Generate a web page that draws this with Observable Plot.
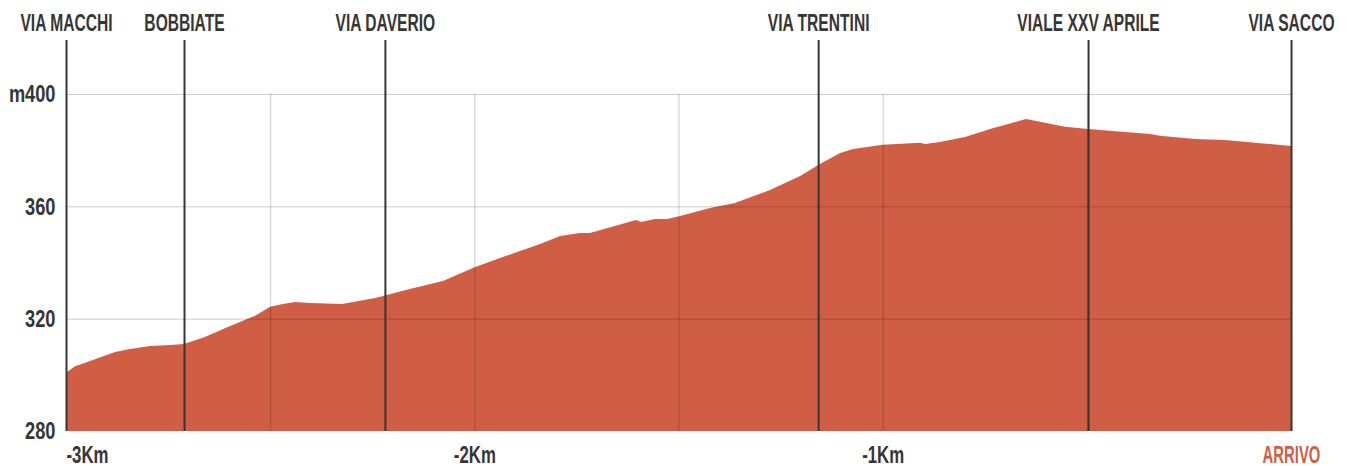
<!DOCTYPE html>
<html>
<head>
<meta charset="utf-8">
<script src="https://cdn.jsdelivr.net/npm/d3@7"></script>
<script src="https://cdn.jsdelivr.net/npm/@observablehq/plot@0.6"></script>
<style>
  html, body { margin: 0; padding: 0; background: #fff; }
  #chart svg { display: block; }
</style>
</head>
<body>
<div id="chart"></div>
<script>
// Elevation profile (distance to finish in km, elevation in m)
const km   = [-3.000, -2.978, -2.941, -2.880, -2.843, -2.794, -2.745, -2.711, -2.660, -2.598,
              -2.537, -2.500, -2.469, -2.439, -2.402, -2.324, -2.243, -2.158, -2.077, -1.998,
              -1.937, -1.839, -1.790, -1.741, -1.717, -1.604, -1.592, -1.558, -1.528, -1.496,
              -1.423, -1.362, -1.276, -1.202, -1.158, -1.104, -1.073, -1.000, -0.909, -0.896,
              -0.860, -0.798, -0.737, -0.649, -0.553, -0.497, -0.345, -0.321, -0.235, -0.162, 0];
const elev = [300.7, 303.1, 304.9, 308.1, 309.2, 310.3, 310.6, 311.0, 313.5, 317.4,
              321.0, 324.2, 325.2, 325.9, 325.6, 325.2, 327.4, 330.6, 333.4, 338.4,
              341.6, 346.6, 349.4, 350.5, 350.5, 355.1, 354.4, 355.5, 355.5, 356.6,
              359.4, 361.2, 365.8, 370.8, 374.7, 379.0, 380.4, 381.9, 382.6, 382.2,
              382.9, 384.7, 387.5, 391.1, 388.3, 387.5, 385.8, 385.1, 384.0, 383.6, 381.5];

const landmarkNames = ["VIA MACCHI", "BOBBIATE", "VIA DAVERIO", "VIA TRENTINI", "VIALE XXV APRILE", "VIA SACCO"];
const landmarkKm    = [-3, -2.711, -2.219, -1.158, -0.497, 0];

const xTicks      = [-3, -2, -1, 0];
const xTickLabels = ["-3Km", "-2Km", "-1Km", "ARRIVO"];
const xGrid       = [-2.5, -2, -1.5, -1, -0.5];
const yTicks      = [280, 320, 360, 400];
const yTickLabels = ["280", "320", "360", "m400"];
const yGrid       = [320, 360, 400];

const profile   = km.map((k, i) => ({km: k, elev: elev[i]}));
const landmarks = landmarkNames.map((n, i) => ({name: n, km: landmarkKm[i]}));
const xLabels   = xTicks.map((t, i) => ({v: t, label: xTickLabels[i]}));
const yLabels   = yTicks.map((t, i) => ({v: t, label: yTickLabels[i]}));

const FONT = "'Liberation Sans', Arial, sans-serif";
const RED = "#cf5e44";
const INK = "#363636";

const textStyle = {fontSize: 24, fontWeight: "bold"};

const chart = Plot.plot({
  width: 1349,
  height: 466,
  marginLeft: 66,
  marginRight: 58,
  marginTop: 94,
  marginBottom: 35,
  style: {fontFamily: FONT, background: "#fff"},
  x: {domain: [-3, 0], axis: null},
  y: {domain: [280, 400], axis: null},
  marks: [
    Plot.areaY(profile, {x: "km", y1: 280, y2: "elev", fill: RED, curve: "linear"}),
    Plot.ruleY(yGrid, {stroke: "#000", strokeOpacity: 0.2, strokeWidth: 1}),
    Plot.ruleX(xGrid, {stroke: "#000", strokeOpacity: 0.2, strokeWidth: 1}),
    Plot.ruleX(landmarks, {x: "km", stroke: INK, strokeWidth: 2, insetTop: -54}),
    Plot.text(landmarks, {x: "km", text: "name", frameAnchor: "top", dy: -71,
      fill: INK, textAnchor: "middle", lineAnchor: "middle", ...textStyle}),
    Plot.text(yLabels, {y: "v", text: "label", frameAnchor: "left", dx: -11, textAnchor: "end",
      fill: INK, lineAnchor: "middle", ...textStyle}),
    Plot.text(xLabels.filter(d => d.v === -3), {x: "v", text: "label", frameAnchor: "bottom", dy: 24,
      textAnchor: "start", lineAnchor: "middle", fill: INK, ...textStyle}),
    Plot.text(xLabels.filter(d => d.v !== -3 && d.v !== 0), {x: "v", text: "label", frameAnchor: "bottom", dy: 24,
      textAnchor: "middle", lineAnchor: "middle", fill: INK, ...textStyle}),
    Plot.text(xLabels.filter(d => d.v === 0), {x: "v", text: "label", frameAnchor: "bottom", dy: 24,
      textAnchor: "middle", lineAnchor: "middle", fill: RED, ...textStyle})
  ]
});

// Condense the glyphs horizontally to mimic a narrow display face
function squeezeFor(txt) {
  if (landmarkNames.includes(txt)) return 0.65;
  if (yTickLabels.includes(txt)) return 0.76;
  if (txt === "ARRIVO") return 0.62;
  if (xTickLabels.includes(txt)) return 0.7;
  return 1;
}
d3.select(chart).selectAll("text").each(function () {
  const s = squeezeFor(this.textContent);
  if (s === 1) return;
  const t = this.getAttribute("transform") || "";
  this.setAttribute("transform", `${t} scale(${s},1)`);
});
document.getElementById("chart").appendChild(chart);
</script>
</body>
</html>
